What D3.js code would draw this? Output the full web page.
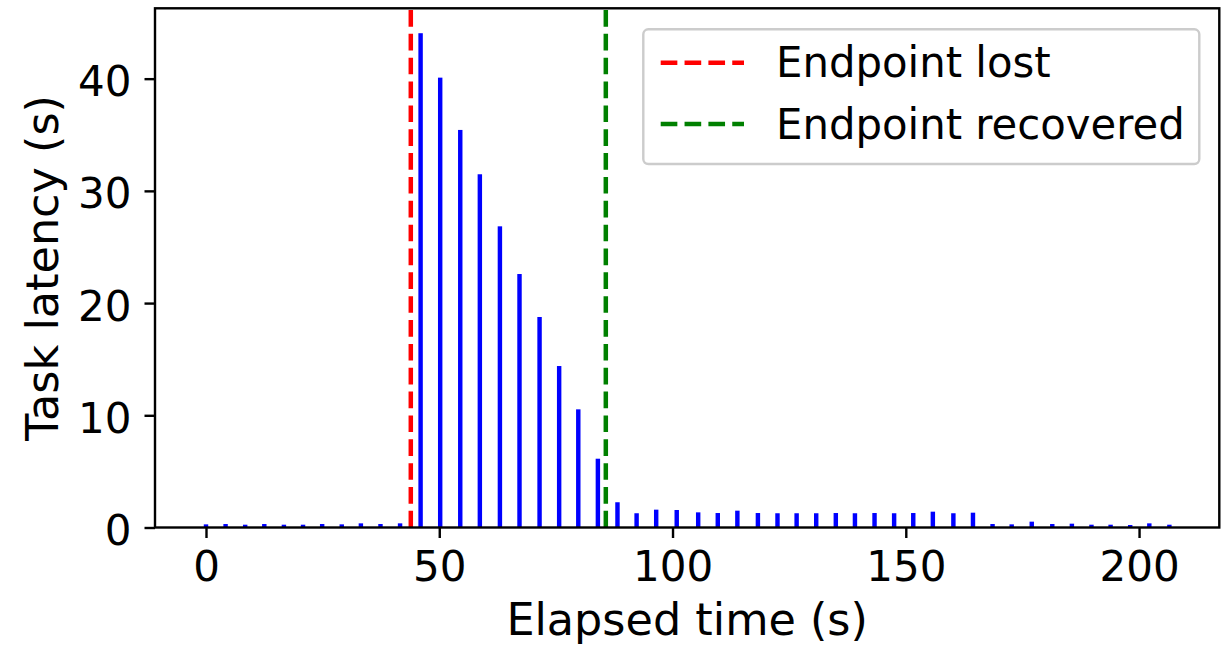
<!DOCTYPE html>
<html>
<head>
<meta charset="utf-8">
<script src="https://cdn.jsdelivr.net/npm/d3@7"></script>
<style>
  html, body { margin: 0; padding: 0; background: #fff; }
  svg { display: block; font-family: "DejaVu Sans", sans-serif; }
</style>
</head>
<body>
<svg id="chart" width="1224" height="646"></svg>
<script>
// ---- data ----
const times = [0, 4.2, 8.4, 12.5, 16.7, 20.8, 24.9, 29.1, 33.2, 37.4, 41.6,
  46.0, 50.2, 54.5, 58.7, 63.0, 67.2, 71.5, 75.7, 79.8, 84.0,
  88.2, 92.3, 96.5, 100.9, 105.5, 109.7, 113.9, 118.3, 122.5, 126.6,
  130.8, 135.0, 139.1, 143.3, 147.5, 151.6, 155.8, 160.2, 164.4,
  168.6, 172.7, 177.0, 181.4, 185.6, 189.8, 193.9, 198.1, 202.2, 206.5];
const latency = [0.28, 0.31, 0.25, 0.31, 0.25, 0.25, 0.31, 0.28, 0.37, 0.31, 0.37,
  44.05, 40.09, 35.43, 31.48, 26.84, 22.59, 18.76, 14.39, 10.53, 6.13,
  2.25, 1.27, 1.59, 1.56, 1.35, 1.29, 1.5, 1.29, 1.27, 1.27,
  1.27, 1.29, 1.27, 1.29, 1.27, 1.29, 1.41, 1.27, 1.32,
  0.31, 0.28, 0.52, 0.31, 0.34, 0.25, 0.25, 0.22, 0.37, 0.25];
const events = [
  { label: "Endpoint lost", time: 43.9, color: "#ff0000" },
  { label: "Endpoint recovered", time: 85.7, color: "#008000" }
];
const xTicks = [0, 50, 100, 150, 200];
const yTicks = [0, 10, 20, 30, 40];
const xLabel = "Elapsed time (s)";
const yLabel = "Task latency (s)";
const barWidth = 0.95;

// ---- layout ----
const L = 155, R = 1219.3, T = 8.3, B = 527.5;
const svg = d3.select("#chart");
const x = d3.scaleLinear().domain([-10.93, 217.2]).range([L, R]);
const y = d3.scaleLinear().domain([0, 46.27]).range([B, T]);

// bars
svg.append("g").selectAll("rect").data(times).join("rect")
  .attr("x", (d) => x(d - barWidth / 2))
  .attr("width", (d) => x(d + barWidth / 2) - x(d - barWidth / 2))
  .attr("y", (d, i) => y(latency[i]))
  .attr("height", (d, i) => B - y(latency[i]))
  .attr("fill", "#0000ff");

// event lines (drawn from bottom to top so dashes start at the bottom)
svg.append("g").selectAll("line").data(events).join("line")
  .attr("x1", (d) => x(d.time)).attr("x2", (d) => x(d.time))
  .attr("y1", B).attr("y2", T)
  .attr("stroke", (d) => d.color)
  .attr("stroke-width", 4.5)
  .attr("stroke-dasharray", "16.65,7.2");

// axes
const fs = 42;
const xAxis = svg.append("g").attr("transform", `translate(0,${B})`)
  .call(d3.axisBottom(x).tickValues(xTicks).tickSize(10.5).tickPadding(12).tickFormat(d3.format("d")));
const yAxis = svg.append("g").attr("transform", `translate(${L},0)`)
  .call(d3.axisLeft(y).tickValues(yTicks).tickSize(10.5).tickPadding(12).tickFormat(d3.format("d")));
[xAxis, yAxis].forEach((g) => {
  g.select(".domain").remove();
  g.selectAll(".tick line").attr("stroke", "#000").attr("stroke-width", 2.4);
  g.selectAll(".tick text").attr("fill", "#000").attr("font-size", fs)
    .attr("font-family", "DejaVu Sans");
});
xAxis.selectAll(".tick text").attr("dy", null).attr("y", 0)
  .attr("transform", "translate(0,53)");
yAxis.selectAll(".tick text").attr("dy", null).attr("transform", "translate(-1,17)");

// spines
svg.append("rect").attr("x", L).attr("y", T).attr("width", R - L).attr("height", B - T)
  .attr("fill", "none").attr("stroke", "#000").attr("stroke-width", 2.4);

// axis labels
svg.append("text").attr("x", (L + R) / 2).attr("y", 635.3)
  .attr("text-anchor", "middle").attr("font-size", 44.5).attr("fill", "#000").text(xLabel);
svg.append("text").attr("transform", `translate(58,${(T + B) / 2}) rotate(-90)`)
  .attr("text-anchor", "middle").attr("font-size", 44.5).attr("fill", "#000").text(yLabel);

// legend
const lg = svg.append("g");
lg.append("rect").attr("x", 643.3).attr("y", 29.3).attr("width", 556).attr("height", 134.7)
  .attr("rx", 5).attr("fill", "rgba(255,255,255,0.8)").attr("stroke", "#cccccc").attr("stroke-width", 2.4);
const rowY = [62.7, 124];
events.forEach((e, i) => {
  lg.append("line").attr("x1", 660.7).attr("x2", 744).attr("y1", rowY[i]).attr("y2", rowY[i])
    .attr("stroke", e.color).attr("stroke-width", 4.5).attr("stroke-dasharray", "16.65,7.2");
  lg.append("text").attr("x", 776).attr("y", rowY[i] + 14.6).attr("font-size", 41.8)
    .attr("fill", "#000").text(e.label);
});
</script>
</body>
</html>
